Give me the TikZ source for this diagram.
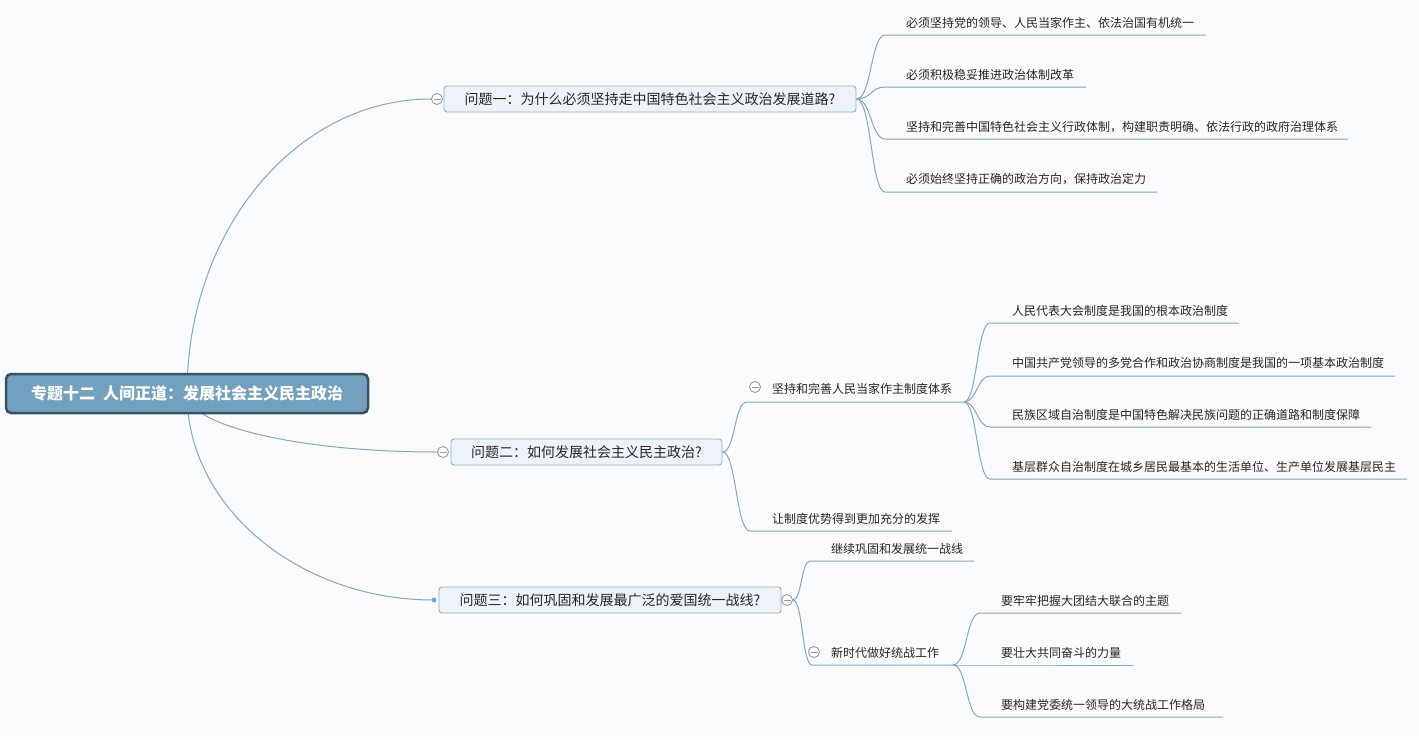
\documentclass[tikz,border=0pt]{standalone}
\usepackage{fontspec}
\setmainfont{Noto Sans CJK SC}
\definecolor{pagebg}{HTML}{FAFBFC}
\definecolor{conncol}{HTML}{82A8C6}
\definecolor{qfill}{HTML}{EDF3F8}
\definecolor{qborder}{HTML}{8DB2CE}
\definecolor{rootfill}{HTML}{72A0BF}
\definecolor{rootborder}{HTML}{3A5163}
\definecolor{txt}{HTML}{262626}
\definecolor{togcol}{HTML}{9A9A9A}
\pgfdeclarelayer{bg}
\pgfdeclarelayer{lines}
\pgfsetlayers{bg,lines,main}
\begin{document}
\begin{tikzpicture}[x=1pt,y=-1pt,
  conn/.style={draw=conncol, line width=1pt},
  qbox/.style={draw=qborder, fill=qfill, rounded corners=3pt, line width=0.9pt,
    minimum height=26pt, inner sep=0pt, font=\fontsize{14}{16}\selectfont, text=txt},
  leaf/.style={anchor=west, inner sep=0pt, font=\fontsize{12}{14}\selectfont, text=txt},
  toggle/.style={circle, draw=togcol, fill=white, line width=0.9pt, minimum size=11pt,
    inner sep=0pt, path picture={\draw[togcol, line width=0.9pt]
      ([xshift=-3.5pt]path picture bounding box.center) --
      ([xshift=3.5pt]path picture bounding box.center);}},
  dot/.style={circle, fill=conncol, minimum size=5pt, inner sep=0pt},
  rootbox/.style={draw=rootborder, fill=rootfill, rounded corners=5pt, line width=2.5pt,
    minimum width=362pt, minimum height=39pt, inner sep=0pt, text=white,
    font=\fontsize{16}{18}\selectfont\bfseries}
]
\begin{pgfonlayer}{bg}
\fill[pagebg] (0,0) rectangle (1419,739);
\end{pgfonlayer}
\useasboundingbox (0,0) rectangle (1419,739);

% root
\node[rootbox] (root) at (187,393.5) {专题十二\hspace{0.5em}人间正道：发展社会主义民主政治};

% questions
\node[qbox, minimum width=412pt] (q1) at (650,99) {问题一：为什么必须坚持走中国特色社会主义政治发展道路?};
\node[qbox, minimum width=271pt] (q2) at (586.5,452) {问题二：如何发展社会主义民主政治?};
\node[qbox, minimum width=342pt] (q3) at (610,600) {问题三：如何巩固和发展最广泛的爱国统一战线?};

\node[toggle] (c1) at (437,99) {};
\node[toggle] (c2) at (443,452) {};
\node[dot] (d3) at (434,600) {};
\node[toggle] (c3) at (787,600) {};

% Q1 leaves
\node[leaf] (l11) at (906,23) {必须坚持党的领导、人民当家作主、依法治国有机统一};
\node[leaf] (l12) at (906,75) {必须积极稳妥推进政治体制改革};
\node[leaf] (l13) at (906,127) {坚持和完善中国特色社会主义行政体制，构建职责明确、依法行政的政府治理体系};
\node[leaf] (l14) at (906,179) {必须始终坚持正确的政治方向，保持政治定力};
\coordinate (u11s) at (885,35);  \coordinate (u11e) at (1206,35);
\coordinate (u12s) at (885,87);  \coordinate (u12e) at (1086,87);
\coordinate (u13s) at (885,139); \coordinate (u13e) at (1348,139);
\coordinate (u14s) at (885,192); \coordinate (u14e) at (1157,192);

% Q2 children
\node[leaf] (s21) at (772,389) {坚持和完善人民当家作主制度体系};
\node[toggle] (c21) at (755,387) {};
\coordinate (u21s) at (747,402); \coordinate (u21e) at (964,402);
\node[leaf] (s22) at (772,519) {让制度优势得到更加充分的发挥};
\coordinate (u22s) at (750,531); \coordinate (u22e) at (952,531);

\node[leaf] (l21) at (1012,311) {人民代表大会制度是我国的根本政治制度};
\node[leaf] (l22) at (1012,363) {中国共产党领导的多党合作和政治协商制度是我国的一项基本政治制度};
\node[leaf] (l23) at (1012,415) {民族区域自治制度是中国特色解决民族问题的正确道路和制度保障};
\node[leaf] (l24) at (1012,467) {基层群众自治制度在城乡居民最基本的生活单位、生产单位发展基层民主};
\coordinate (v21s) at (990,323); \coordinate (v21e) at (1239,323);
\coordinate (v22s) at (990,376); \coordinate (v22e) at (1395,376);
\coordinate (v23s) at (990,427); \coordinate (v23e) at (1371,427);
\coordinate (v24s) at (990,479); \coordinate (v24e) at (1407,479);

% Q3 children
\node[leaf] (s31) at (831,549) {继续巩固和发展统一战线};
\coordinate (u31s) at (810,561); \coordinate (u31e) at (974,561);
\node[leaf] (s32) at (831,653) {新时代做好统战工作};
\node[toggle] (c32) at (814,652) {};
\coordinate (u32s) at (812,665); \coordinate (u32e) at (953,665);

\node[leaf] (l31) at (1001,601) {要牢牢把握大团结大联合的主题};
\node[leaf] (l32) at (1001,653) {要壮大共同奋斗的力量};
\node[leaf] (l33) at (1001,705) {要构建党委统一领导的大统战工作格局};
\coordinate (v31s) at (980,613); \coordinate (v31e) at (1181,613);
\coordinate (v32s) at (980,665); \coordinate (v32e) at (1133,665);
\coordinate (v33s) at (980,717); \coordinate (v33e) at (1223,717);

\begin{pgfonlayer}{lines}
% root to questions
\draw[conn] (root.center) .. controls +(0,-163) and +(-135,0) .. (c1.west);
\draw[conn] (root.center) .. controls +(0,32) and +(-139,0) .. (c2.west);
\draw[conn] (root.center) .. controls +(0,114) and +(-135,0) .. (d3.center);
% Q1
\foreach \i in {11,12,13,14}
  \draw[conn] (q1.east) .. controls +(15,0) and +(-14,0) .. (u\i s) -- (u\i e);
% Q2
\draw[conn] (q2.east) .. controls +(13,0) and +(-13,0) .. (u21s) -- (u21e);
\draw[conn] (q2.east) .. controls +(14,0) and +(-14,0) .. (u22s) -- (u22e);
\foreach \i in {21,22,23,24}
  \draw[conn] (u21e) .. controls +(13,0) and +(-13,0) .. (v\i s) -- (v\i e);
% Q3
\draw[conn] (c3.east) .. controls +(9,0) and +(-9,0) .. (u31s) -- (u31e);
\draw[conn] (c3.east) .. controls +(10,0) and +(-10,0) .. (u32s) -- (u32e);
\foreach \i in {31,32,33}
  \draw[conn] (u32e) .. controls +(14,0) and +(-14,0) .. (v\i s) -- (v\i e);
\end{pgfonlayer}
\end{tikzpicture}
\end{document}
